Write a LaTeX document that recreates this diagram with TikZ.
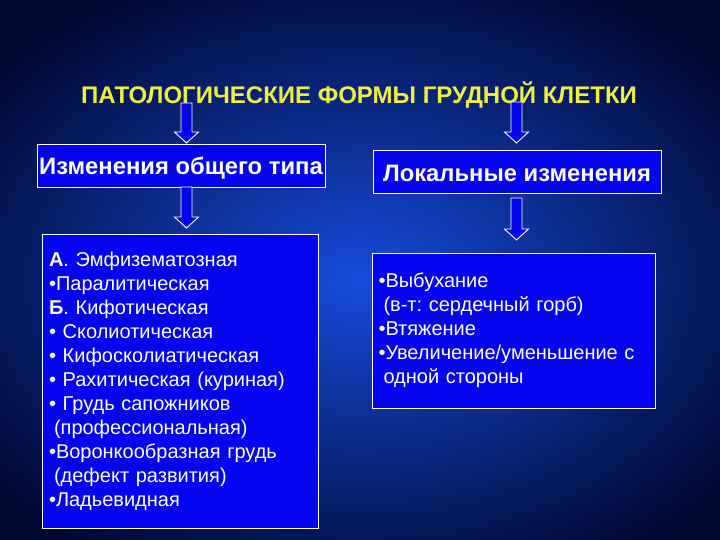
\documentclass[tikz,border=0pt]{standalone}
\usepackage{fontspec}
\setmainfont{Liberation Sans}
\usetikzlibrary{calc}
\frenchspacing
\definecolor{boxblue}{RGB}{4,4,238}
\definecolor{titleyellow}{RGB}{240,240,60}
\definecolor{bgin}{RGB}{22,75,220}
\definecolor{bgout}{RGB}{0,8,50}
\tikzset{
  box/.style={draw=white, line width=0.9pt, fill=boxblue, text=white, inner sep=0pt},
  headbox/.style={box, font=\bfseries\fontsize{23.8}{26}\selectfont},
  listbox/.style={box, align=left, font=\fontsize{20}{24}\selectfont},
  arrowst/.style={draw=white, line width=0.9pt, fill=boxblue, line join=miter},
  titlest/.style={text=titleyellow, font=\bfseries\fontsize{24}{26}\selectfont, inner sep=0pt}
}
\newcommand{\blockarrow}[2]{%
  \draw[arrowst] ($(#1)+(-5.5,0)$) -- ($(#1)+(5.5,0)$) -- ($(#2)+(5.5,-11)$)
    -- ($(#2)+(12,-11)$) -- (#2) -- ($(#2)+(-12,-11)$) -- ($(#2)+(-5.5,-11)$) -- cycle;}
\begin{document}
\begin{tikzpicture}[x=1pt,y=-1pt]
\useasboundingbox (0,0) rectangle (720,540);
\fill[bgout] (0,0) rectangle (720,540);
\begin{scope}
  \clip (0,0) rectangle (720,540);
  \shade[inner color=bgin, outer color=bgout] (360,280) ellipse (470 and 330);
\end{scope}

\node[titlest] (title) at (359,95) {ПАТОЛОГИЧЕСКИЕ ФОРМЫ ГРУДНОЙ КЛЕТКИ};

\node[headbox, minimum width=288, minimum height=43] (gen) at (181,165.5) {\raisebox{-3pt}[\height][\depth]{Изменения общего типа}};
\node[headbox, minimum width=288, minimum height=43] (loc) at (517,171.5) {\raisebox{-2pt}[\height][\depth]{Локальные изменения}};

\node[listbox, minimum width=276, minimum height=294, text width=262] (genlist) at (180,381)
 {\textbf{А}. Эмфизематозная\\
  •Паралитическая\\
  \textbf{Б}. Кифотическая\\
  • Сколиотическая\\
  • Кифосколиатическая\\
  • Рахитическая (куриная)\\
  • Грудь сапожников\\
  \hspace*{5pt}(профессиональная)\\
  •Воронкообразная грудь\\
  \hspace*{5pt}(дефект развития)\\
  •Ладьевидная};

\node[listbox, minimum width=283, minimum height=155, text width=271] (loclist) at (514,330.5)
 {•Выбухание\\
  \hspace*{5pt}(в-т: сердечный горб)\\
  •Втяжение\\
  •Увеличение/уменьшение с\\
  \hspace*{5pt}одной стороны};

\coordinate (a1s) at (186.5,103);
\coordinate (a1t) at (186.5,143);
\coordinate (a2s) at (516.5,102);
\coordinate (a2t) at (516.5,143);
\coordinate (a3s) at (186.5,187);
\coordinate (a3t) at (186.5,228);
\coordinate (a4s) at (516.5,198);
\coordinate (a4t) at (516.5,240);
\blockarrow{a1s}{a1t}
\blockarrow{a2s}{a2t}
\blockarrow{a3s}{a3t}
\blockarrow{a4s}{a4t}
\end{tikzpicture}
\end{document}
